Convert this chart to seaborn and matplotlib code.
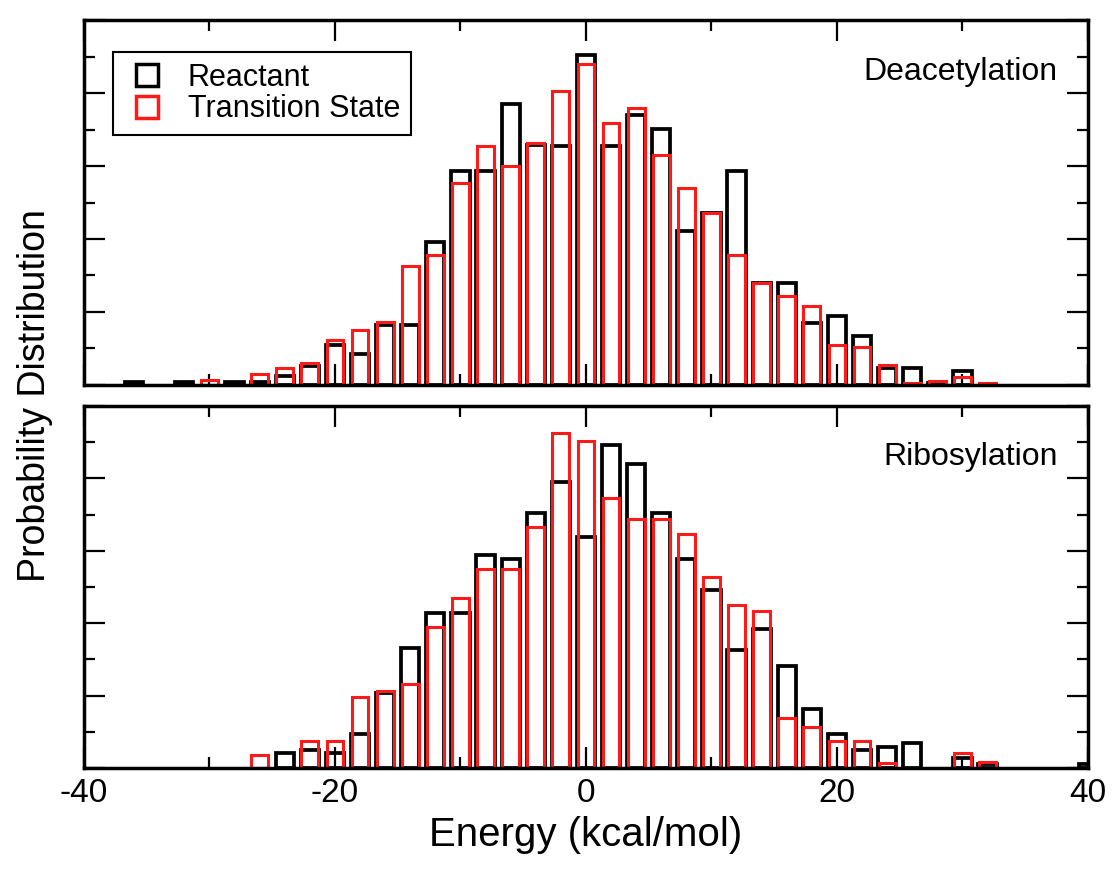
import numpy as np
import pandas as pd
import matplotlib
matplotlib.use("Agg")
import matplotlib.pyplot as plt
from matplotlib.lines import Line2D
from matplotlib.ticker import MultipleLocator
import seaborn as sns

# bin centres (kcal/mol) and heights (in units of 0.01)
top_energy = list(range(-36, 33, 2))
deac_reactant = [0.09, 0, 0.09, 0, 0.09, 0.09, 0.25, 0.52, 1.10, 0.85, 1.65, 1.64,
                 3.92, 5.85, 5.85, 7.69, 6.57, 6.55, 9.05, 6.55, 7.39, 7.02, 4.21,
                 4.70, 5.85, 2.80, 2.80, 1.70, 1.88, 1.33, 0.46, 0.46, 0.05, 0.37, 0]
deac_ts = [0, 0, 0, 0.14, 0, 0.30, 0.46, 0.60, 1.24, 1.50, 1.72, 3.26,
           3.57, 5.53, 6.55, 5.99, 6.63, 8.06, 8.79, 7.18, 7.58, 6.29, 5.41,
           4.70, 3.57, 2.80, 2.45, 2.16, 1.10, 1.03, 0.55, 0.05, 0.12, 0.21, 0.05]

bot_energy = list(range(-36, 41, 2))
ribo_reactant = [0, 0, 0, 0, 0, 0, 0.42, 0.50, 0.40, 0.93, 2.06, 3.32, 4.29,
                 4.29, 5.87, 5.78, 7.03, 7.91, 6.39, 8.93, 8.41, 7.03, 5.78, 4.92,
                 3.25, 3.84, 2.81, 1.64, 0.93, 0.50, 0.59, 0.70, 0, 0.27, 0.10,
                 0, 0, 0, 0.12]
ribo_ts = [0, 0, 0, 0, 0, 0.36, 0, 0.74, 0.74, 1.96, 2.13, 2.33, 3.89,
           4.70, 5.50, 5.50, 6.67, 9.24, 9.02, 7.47, 6.88, 6.88, 6.46, 5.27,
           4.49, 4.33, 1.37, 1.14, 0.75, 0.75, 0.15, 0, 0, 0.40, 0.17,
           0, 0, 0, 0]

x_ticks = [-40, -20, 0, 20, 40]
x_ticklabels = ["-40", "-20", "0", "20", "40"]

sns.set_theme(style="ticks")
plt.rcParams['font.family'] = ['Liberation Sans', 'DejaVu Sans']
plt.rcParams['axes.unicode_minus'] = False
plt.rcParams['text.color'] = 'black'
plt.rcParams['axes.labelcolor'] = 'black'
plt.rcParams['xtick.color'] = 'black'
plt.rcParams['ytick.color'] = 'black'

fig = plt.figure(figsize=(11.15, 8.71), dpi=100)
ax1 = fig.add_axes([0.0753, 0.558, 0.9004, 0.419])
ax2 = fig.add_axes([0.0753, 0.1183, 0.9004, 0.4156])


def draw_panel(ax, energy, reac, ts, name):
    df = pd.DataFrame({"energy": energy,
                       "reac": np.array(reac) / 100.0,
                       "ts": np.array(ts) / 100.0})
    # empty bins are not drawn
    sns.barplot(data=df[df.reac > 0], x="energy", y="reac", native_scale=True,
                fill=False, color="black", linewidth=2.7, width=0.725,
                errorbar=None, ax=ax)
    sns.barplot(data=df[df.ts > 0], x="energy", y="ts", native_scale=True,
                fill=False, color="#ff1a1a", linewidth=2.2, width=0.67,
                errorbar=None, ax=ax)
    ax.set_xlim(-40, 40)
    ax.set_ylim(0, 0.1)
    ax.set_xlabel("")
    ax.set_ylabel("")
    ax.xaxis.set_major_locator(MultipleLocator(20))
    ax.xaxis.set_minor_locator(MultipleLocator(10))
    ax.yaxis.set_major_locator(MultipleLocator(0.02))
    ax.yaxis.set_minor_locator(MultipleLocator(0.01))
    ax.tick_params(which="both", direction="in", top=True, right=True,
                   left=True, bottom=True, width=1.6, color="black")
    ax.tick_params(which="major", length=15)
    ax.tick_params(which="minor", length=8)
    ax.set_yticklabels([])
    for s in ax.spines.values():
        s.set_linewidth(2.5)
        s.set_color("black")
    ax.text(0.97, 0.858, name, transform=ax.transAxes, ha="right", va="center",
            fontsize=23, color="black")


draw_panel(ax1, top_energy, deac_reactant, deac_ts, "Deacetylation")
draw_panel(ax2, bot_energy, ribo_reactant, ribo_ts, "Ribosylation")

ax1.set_xticklabels([])
ax2.set_xticks(x_ticks)
ax2.set_xticklabels(x_ticklabels, fontsize=24)
ax2.tick_params(axis="x", pad=7)
ax2.set_xlabel("Energy (kcal/mol)", fontsize=29, labelpad=5)

fig.text(0.031, 0.546, "Probability Distribution", rotation=90,
         ha="center", va="center", fontsize=27, color="black")

handles = [
    Line2D([], [], marker="s", linestyle="none", markersize=16,
           markerfacecolor="none", markeredgecolor="black", markeredgewidth=2.5),
    Line2D([], [], marker="s", linestyle="none", markersize=16,
           markerfacecolor="none", markeredgecolor="#ff1a1a", markeredgewidth=2.5),
]
leg = ax1.legend(handles, ["Reactant", "Transition State"], loc="upper left",
                 bbox_to_anchor=(0.029, 0.912), fontsize=22, frameon=True,
                 fancybox=False, framealpha=1, edgecolor="black",
                 labelspacing=0.05, handletextpad=0.6, borderpad=0.35,
                 handlelength=1.5, borderaxespad=0)
leg.get_frame().set_linewidth(1.5)
for t in leg.get_texts():
    t.set_color("black")

fig.savefig("out.png", dpi=100)
